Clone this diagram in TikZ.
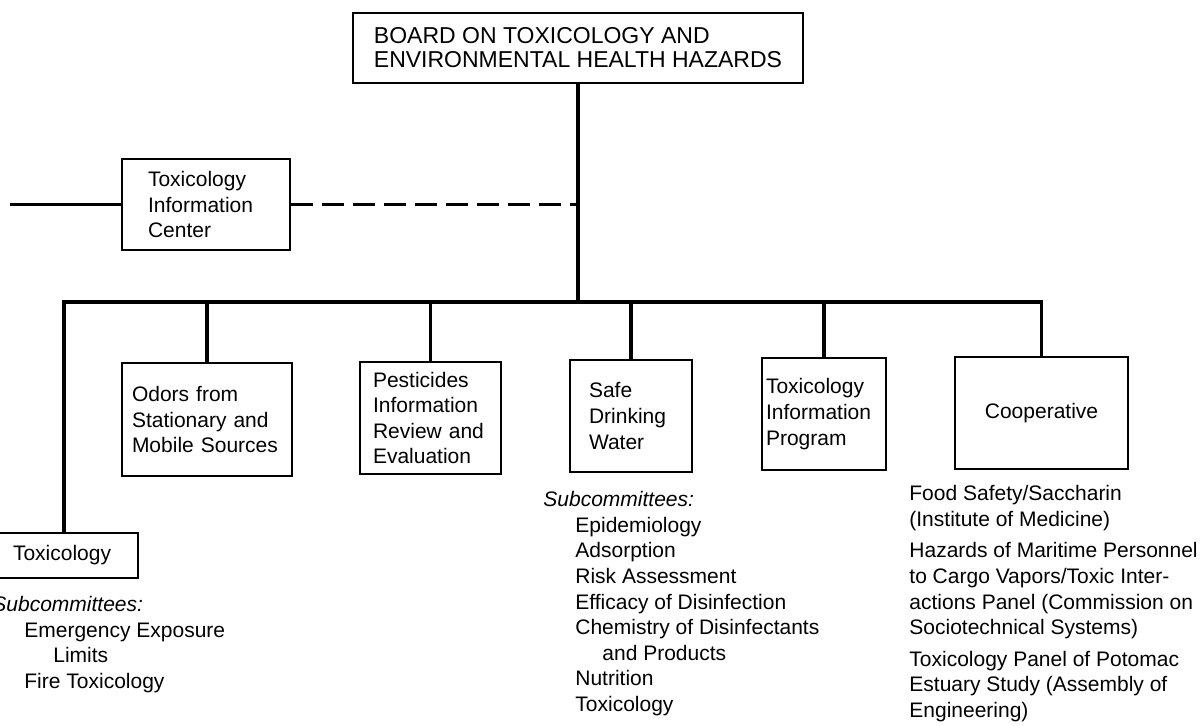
\documentclass[tikz,border=0pt]{standalone}
\usepackage{fontspec}
\setmainfont{Liberation Sans}
\usepackage{tikz}
\usetikzlibrary{positioning}
\tikzstyle{B} = [rectangle,draw=black,line width=1pt,inner ysep=0pt,align=left,font=\fontsize{10.5}{12.8}\selectfont]
\tikzstyle{T} = [align=left,inner sep=0pt,font=\fontsize{10.5}{12.8}\selectfont]
\tikzstyle{E} = [line width=1.6pt]

\begin{document}
\begin{tikzpicture}[x=0.5pt,y=0.5pt]
  \useasboundingbox (0,0) rectangle (1203,-726);
  \clip (0,0) rectangle (1203,-726);

  \node [B,minimum width=225pt,minimum height=35pt,font=\fontsize{11.5}{12}\selectfont] (n1) at (578,-48) {BOARD ON TOXICOLOGY AND\\ENVIRONMENTAL HEALTH HAZARDS};
  \coordinate [below=109pt of n1] (b);
  \draw [E] (n1) -- (b);

  \node [B,text width=58pt,inner xsep=13pt,minimum height=45.5pt] (n2) at (206,-204.5) {Toxicology\\Information\\Center};
  \coordinate [left=55.5pt of n2] (l);
  \draw [E] (l) -- (n2);
  \draw [E,dash pattern=on 11pt off 4.5pt] (n2) -- (n2 -| b);

  \node [B,text width=51pt,inner xsep=11.5pt,minimum height=22.5pt] (n3) at (64,-555.5) {Toxicology};
  \node [B,text width=75pt,inner xsep=5pt,minimum height=56.5pt] (n4) at (207,-419.5) {Odors from\\Stationary and\\Mobile Sources};
  \node [B,text width=57.5pt,inner xsep=6.5pt,minimum height=56pt] (n5) at (430.5,-418) {Pesticides\\Information\\Review and\\Evaluation};
  \node [B,text width=42pt,inner xsep=9.5pt,minimum height=56pt] (n6) at (631,-416) {Safe\\Drinking\\Water};
  \node [B,text width=58pt,inner xsep=2pt,minimum height=56pt] (n7) at (824,-414) {Toxicology\\Information\\Program};
  \node [B,align=center,minimum width=86.5pt,minimum height=56pt] (n8) at (1041.5,-413) {Cooperative};

  \draw [E] (n3) |- (b) -| (n8);
  \foreach \n in {n4,n5,n6,n7}
    \draw [E] (\n) -- (\n |- b);

  \node [T,below right=8.5pt and 1.5pt of n3.south west] (s1) {\textit{Subcommittees:}\\\hspace*{16pt}Emergency Exposure\\\hspace*{30.5pt}Limits\\\hspace*{16pt}Fire Toxicology};
  \node [T,below left=9pt and 13pt of n6.south west,anchor=north west] (s2) {\textit{Subcommittees:}\\\hspace*{16pt}Epidemiology\\\hspace*{16pt}Adsorption\\\hspace*{16pt}Risk Assessment\\\hspace*{16pt}Efficacy of Disinfection\\\hspace*{16pt}Chemistry of Disinfectants\\\hspace*{29.5pt}and Products\\\hspace*{16pt}Nutrition\\\hspace*{16pt}Toxicology};
  \node [T,below left=7.5pt and 22.5pt of n8.south west,anchor=north west] (s3) {Food Safety/Saccharin\\(Institute of Medicine)\\[3pt]Hazards of Maritime Personnel\\to Cargo Vapors/Toxic Inter-\\actions Panel (Commission on\\Sociotechnical Systems)\\[3pt]Toxicology Panel of Potomac\\Estuary Study (Assembly of\\Engineering)};

\end{tikzpicture}
\end{document}
